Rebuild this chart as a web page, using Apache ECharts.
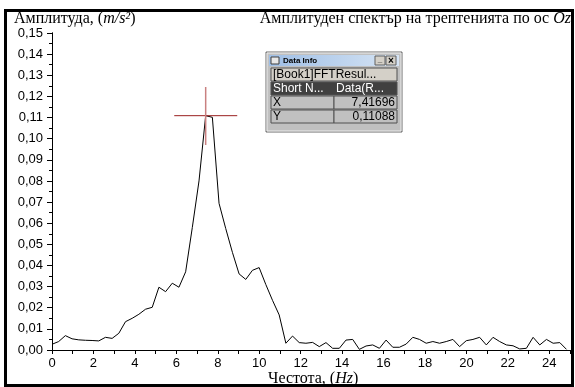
<!DOCTYPE html>
<html>
<head>
<meta charset="utf-8">
<script src="https://cdn.jsdelivr.net/npm/echarts/dist/echarts.min.js"></script>
<style>
  html, body { margin: 0; padding: 0; background: #fff; }
  #chart { width: 575px; height: 387px; }
</style>
</head>
<body>
<div id="chart"></div>
<script>
// FFT bins (Hz)
const freq = [
  0, 0.322, 0.645, 0.967, 1.290, 1.612, 1.935, 2.257, 2.580, 2.902,
  3.225, 3.547, 3.870, 4.192, 4.515, 4.837, 5.160, 5.482, 5.805, 6.127,
  6.450, 6.772, 7.095, 7.417, 7.740, 8.062, 8.384, 8.707, 9.029, 9.352,
  9.674, 9.997, 10.319, 10.642, 10.964, 11.287, 11.609, 11.932, 12.254, 12.577,
  12.899, 13.222, 13.544, 13.867, 14.189, 14.512, 14.834, 15.157, 15.479, 15.802,
  16.124, 16.447, 16.769, 17.092, 17.414, 17.737, 18.059, 18.382, 18.704, 19.027,
  19.349, 19.671, 19.994, 20.316, 20.639, 20.961, 21.284, 21.606, 21.929, 22.251,
  22.574, 22.896, 23.219, 23.541, 23.864, 24.186, 24.509, 24.831
];
// amplitude (m/s^2)
const amp = [
  0.0027, 0.0040, 0.0068, 0.0053, 0.0048, 0.0046, 0.0045, 0.0043, 0.0060, 0.0055,
  0.0079, 0.0134, 0.0150, 0.0169, 0.0193, 0.0202, 0.0297, 0.0276, 0.0316, 0.0297,
  0.0370, 0.0580, 0.0800, 0.11088, 0.1101, 0.0694, 0.0575, 0.0462, 0.0360, 0.0334,
  0.0377, 0.0390, 0.0310, 0.0235, 0.0166, 0.0032, 0.0066, 0.0035, 0.0032, 0.0036,
  0.0016, 0.0035, 0.0008, 0.0008, 0.0047, 0.0050, 0.0003, 0.0019, 0.0024, 0.0008,
  0.0047, 0.0013, 0.0013, 0.0028, 0.0060, 0.0050, 0.0032, 0.0040, 0.0032, 0.0040,
  0.0050, 0.0016, 0.0044, 0.0050, 0.0060, 0.0024, 0.0060, 0.0040, 0.0024, 0.0020,
  0.0005, 0.0008, 0.0060, 0.0024, 0.0050, 0.0032, 0.0035, 0.0003
];
// data cursor
const peak = [7.41696, 0.11088];
const crossX = [5.9, 8.94];
const crossY = [0.097, 0.1245];
const infoRows = [["X", "7,41696"], ["Y", "0,11088"]];

const chart = echarts.init(document.getElementById("chart"));

const serif = "Liberation Serif";
const sans = "Liberation Sans";
function rich(size) {
  return {
    a: { fontFamily: serif, fontSize: size, fontWeight: "normal", color: "#000" },
    b: { fontFamily: serif, fontSize: size, fontWeight: "normal", color: "#000", fontStyle: "italic" },
  };
}

// Data Info window
const L = 266, T = 52, W = 136, H = 80, COL = 68;
const info = [
  { type: "rect", shape: { x: L, y: T, width: W, height: H }, style: { fill: "#c0c0c0", stroke: "#6a6a6a", lineWidth: 1 } },
  { type: "rect", shape: { x: L + 1, y: T + 1, width: W - 2, height: H - 2 }, style: { fill: "none", stroke: "#ececec", lineWidth: 1 } },
  {
    type: "rect", shape: { x: L + 3, y: T + 3, width: W - 6, height: 11 },
    style: { fill: new echarts.graphic.LinearGradient(0, 0, 1, 0, [{ offset: 0, color: "#9fbfe6" }, { offset: 1, color: "#d6e4f4" }]) },
  },
  { type: "rect", shape: { x: L + 5, y: T + 5, width: 8, height: 7 }, style: { fill: "#e8e8e8", stroke: "#404040", lineWidth: 1 } },
  { type: "text", x: L + 17, y: T + 9, style: { text: "Data Info", font: "bold 8px " + sans, fill: "#000", textVerticalAlign: "middle" } },
  { type: "rect", shape: { x: L + W - 27, y: T + 4, width: 10, height: 9 }, style: { fill: "#d4d0c8", stroke: "#606060", lineWidth: 1 } },
  { type: "rect", shape: { x: L + W - 16, y: T + 4, width: 10, height: 9 }, style: { fill: "#d4d0c8", stroke: "#606060", lineWidth: 1 } },
  { type: "text", x: L + W - 22, y: T + 8, style: { text: "_", font: "bold 8px " + sans, fill: "#000", textAlign: "center", textVerticalAlign: "middle" } },
  { type: "text", x: L + W - 11, y: T + 9, style: { text: "×", font: "bold 10px " + sans, fill: "#000", textAlign: "center", textVerticalAlign: "middle" } },
  { type: "rect", shape: { x: L + 5, y: T + 16, width: W - 10, height: 13 }, style: { fill: "#d4d0c8", stroke: "#505050", lineWidth: 1 } },
  { type: "text", x: L + 7, y: T + 23, style: { text: "[Book1]FFTResul...", font: "12px " + sans, fill: "#000", textVerticalAlign: "middle" } },
  { type: "rect", shape: { x: L + 5, y: T + 30, width: W - 10, height: 13 }, style: { fill: "#404040", stroke: "#505050", lineWidth: 1 } },
  { type: "text", x: L + 7, y: T + 37, style: { text: "Short N...", font: "12px " + sans, fill: "#fff", textVerticalAlign: "middle" } },
  { type: "text", x: L + COL + 2, y: T + 37, style: { text: "Data(R...", font: "12px " + sans, fill: "#fff", textVerticalAlign: "middle" } },
];
infoRows.forEach((row, i) => {
  const y = T + 44 + i * 14;
  info.push(
    { type: "rect", shape: { x: L + 5, y: y, width: COL - 5, height: 13 }, style: { fill: "#c0c0c0", stroke: "#505050", lineWidth: 1 } },
    { type: "rect", shape: { x: L + COL, y: y, width: W - COL - 5, height: 13 }, style: { fill: "#c0c0c0", stroke: "#505050", lineWidth: 1 } },
    { type: "text", x: L + 7, y: y + 7, style: { text: row[0], font: "12px " + sans, fill: "#000", textVerticalAlign: "middle" } },
    { type: "text", x: L + W - 7, y: y + 7, style: { text: row[1], font: "12px " + sans, fill: "#000", textAlign: "right", textVerticalAlign: "middle" } }
  );
});

const axisLine = { show: true, lineStyle: { color: "#000", width: 1 } };

const option = {
  animation: false,
  backgroundColor: "#fff",
  title: [
    { text: "{a|Амплитуда, (}{b|m/s²}{a|)}", left: 14, top: 11, padding: 0, textStyle: { fontWeight: "normal", rich: rich(16) } },
    { text: "{a|Амплитуден спектър на трептенията по ос }{b|Oz}", right: 4, top: 11, padding: 0, textStyle: { fontWeight: "normal", rich: rich(16) } },
    { text: "{a|Честота, (}{b|Hz}{a|)}", left: 268, top: 371, padding: 0, textStyle: { fontWeight: "normal", rich: rich(16) } },
  ],
  grid: { left: 52, right: 5, top: 33, bottom: 37 },
  xAxis: [
    {
      type: "value", min: 0, max: 25, interval: 1,
      axisLine: axisLine,
      axisTick: { show: true, inside: false, length: 4, lineStyle: { color: "#000" } },
      axisLabel: {
        margin: 7, color: "#000", fontFamily: sans, fontSize: 13,
        formatter: (v) => (v % 2 === 0 ? String(v) : ""),
      },
      splitLine: { show: false },
    },
    {
      type: "value", position: "top", min: 0, max: 25, interval: 1,
      axisLine: axisLine,
      axisTick: { show: true, inside: true, length: 4, lineStyle: { color: "#000" } },
      axisLabel: { show: false },
      splitLine: { show: false },
    },
  ],
  yAxis: [
    {
      type: "value", min: 0, max: 0.15, interval: 0.01,
      axisLine: axisLine,
      axisTick: { show: true, inside: false, length: 5, lineStyle: { color: "#000" } },
      minorTick: { show: true, splitNumber: 2, length: 3, lineStyle: { color: "#000" } },
      axisLabel: {
        margin: 9, color: "#000", fontFamily: sans, fontSize: 13,
        formatter: (v) => v.toFixed(2).replace(".", ","),
      },
      splitLine: { show: false },
    },
    {
      type: "value", position: "right", min: 0, max: 0.15, interval: 0.01,
      axisLine: axisLine,
      axisTick: { show: true, inside: true, length: 5, lineStyle: { color: "#000" } },
      minorTick: { show: true, splitNumber: 2, length: 3, lineStyle: { color: "#000" } },
      axisLabel: { show: false },
      splitLine: { show: false },
    },
  ],
  series: [
    {
      type: "line",
      data: freq.map((f, i) => [f, amp[i]]),
      showSymbol: false,
      lineStyle: { color: "#000", width: 1 },
      z: 3,
    },
    {
      type: "line",
      data: [[crossX[0], peak[1]], [crossX[1], peak[1]]],
      showSymbol: false,
      lineStyle: { color: "#9a2020", width: 1 },
      z: 4,
    },
    {
      type: "line",
      data: [[peak[0], crossY[0]], [peak[0], crossY[1]]],
      showSymbol: false,
      lineStyle: { color: "#c98080", width: 1.5 },
      z: 4,
    },
  ],
  graphic: [
    { type: "rect", shape: { x: 5.5, y: 10.5, width: 567, height: 375 }, style: { fill: "none", stroke: "#000", lineWidth: 3 }, z: 10 },
  ].concat(info),
};

chart.setOption(option);
</script>
</body>
</html>
